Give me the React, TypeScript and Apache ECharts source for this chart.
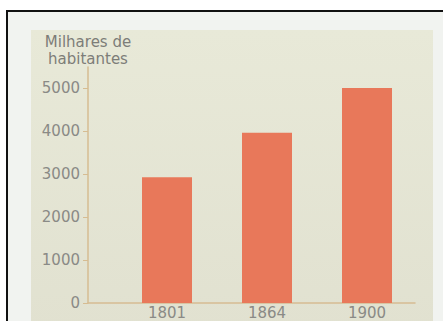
import React, { useEffect, useRef } from "react";
import * as echarts from "echarts";

const years = ["1801", "1864", "1900"];
const population = [2930, 3970, 5010];
const yTicks = [0, 1000, 2000, 3000, 4000, 5000];
const axisTitle = "Milhares de\nhabitantes";

export default function App() {
  const ref = useRef<HTMLDivElement>(null);
  useEffect(() => {
    if (!ref.current) return;
    const chart = echarts.init(ref.current, null, { renderer: "svg" });
    const font = "DejaVu Sans";
    chart.setOption({
      animation: false,
      backgroundColor: "#ffffff",
      graphic: [
        {
          type: "rect",
          z: -10,
          shape: { x: 7, y: 11, width: 460, height: 340 },
          style: { fill: "#f1f3f0", stroke: "#111", lineWidth: 2 },
          silent: true,
        },
        {
          type: "rect",
          z: -9,
          shape: { x: 31, y: 30, width: 402, height: 300 },
          style: {
            fill: new echarts.graphic.LinearGradient(0, 0, 0, 1, [
              { offset: 0, color: "#e8e9d8" },
              { offset: 1, color: "#e1e1d0" },
            ]),
          },
          silent: true,
        },
      ],
      grid: { left: 88, right: 28, top: 67, bottom: 18 },
      xAxis: {
        type: "value",
        min: 0.21,
        max: 3.48,
        splitLine: { show: false },
        axisLine: { show: true, lineStyle: { color: "#d6bc92", width: 1.5 } },
        axisTick: { show: false },
        axisLabel: {
          customValues: years.map((_, i) => i + 1),
          formatter: (v: number) => years[Math.round(v) - 1] ?? "",
          fontFamily: font,
          fontSize: 15,
          color: "#8a8a86",
          margin: 2,
        },
      },
      yAxis: {
        type: "value",
        min: 0,
        max: 5500,
        name: axisTitle,
        nameLocation: "end",
        nameGap: 0,
        nameTextStyle: {
          fontFamily: font,
          fontSize: 15,
          color: "#7d7d78",
          lineHeight: 17,
          align: "center",
          verticalAlign: "bottom",
        },
        splitLine: { show: false },
        axisLine: { show: true, lineStyle: { color: "#d6bc92", width: 1.5 } },
        axisTick: {
          show: true,
          length: 5,
          customValues: yTicks,
          lineStyle: { color: "#d6bc92" },
        },
        axisLabel: {
          customValues: yTicks,
          formatter: (v: number) => String(v),
          fontFamily: font,
          fontSize: 15,
          color: "#8a8a86",
          margin: 8,
        },
      },
      series: [
        {
          type: "bar",
          barWidth: 50,
          data: population.map((v, i) => [i + 1, v]),
          itemStyle: { color: "#e8785a" },
        },
      ],
    });
    return () => chart.dispose();
  }, []);
  return (
    <div
      ref={ref}
      style={{ position: "fixed", left: 0, top: 0, width: 443, height: 321 }}
    />
  );
}
